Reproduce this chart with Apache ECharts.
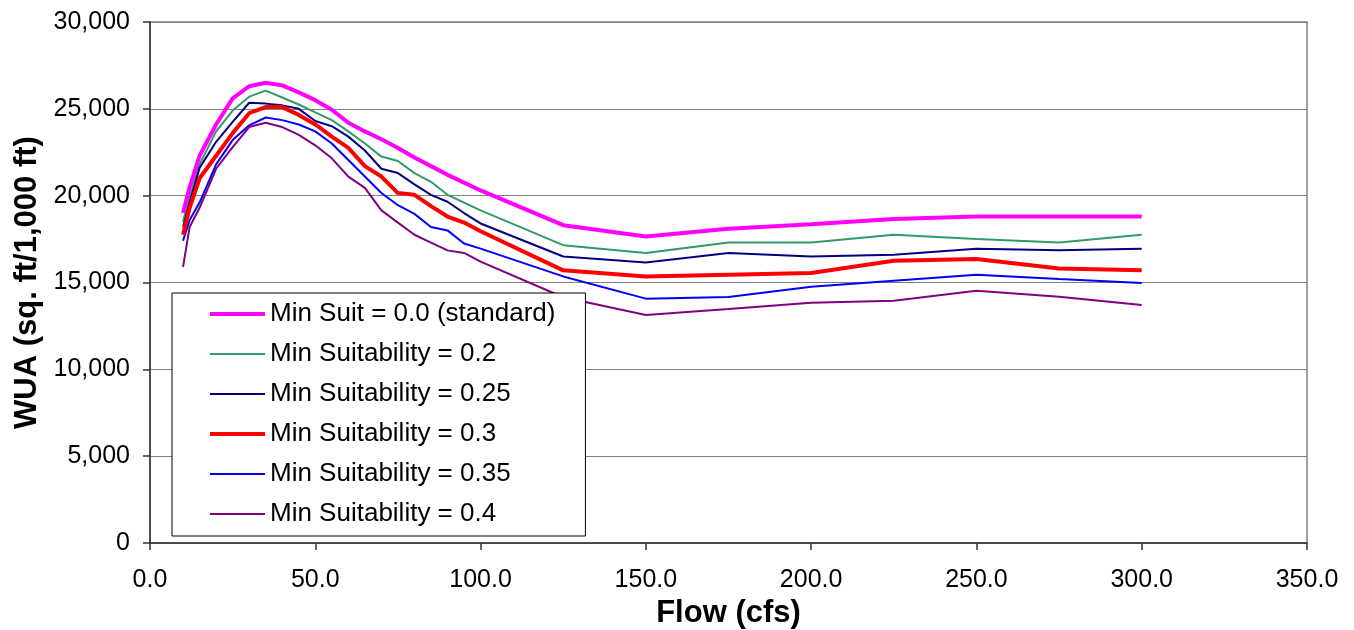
<!DOCTYPE html>
<html>
<head>
<meta charset="utf-8">
<script src="https://cdn.jsdelivr.net/npm/echarts@6/dist/echarts.min.js"></script>
<style>
html,body{margin:0;padding:0;background:#fff;}
#chart{width:1354px;height:630px;}
</style>
</head>
<body>
<div id="chart"></div>
<script>
const flows = [10,12,15,20,25,30,35,40,45,50,55,60,65,70,75,80,85,90,95,100,125,150,175,200,225,250,275,300];
const minSuit00 = [19000,20500,22300,24100,25600,26300,26500,26350,25950,25500,24950,24200,23700,23250,22750,22200,21700,21200,20750,20300,18300,17650,18100,18350,18650,18800,18800,18800];
const minSuit020 = [18500,19900,21800,23700,24900,25700,26050,25650,25250,24800,24350,23700,23000,22250,22000,21300,20800,20050,19600,19150,17150,16700,17300,17300,17750,17500,17300,17750];
const minSuit025 = [18200,19600,21600,23100,24250,25350,25300,25200,25000,24300,24000,23400,22600,21550,21300,20650,20050,19650,19000,18400,16500,16150,16700,16500,16600,16950,16850,16950];
const minSuit030 = [17750,19300,21000,22300,23600,24750,25100,25100,24650,24100,23400,22750,21700,21100,20150,20050,19400,18800,18450,17950,15700,15350,15450,15550,16250,16350,15800,15700];
const minSuit035 = [17400,18600,19600,21800,23200,24050,24500,24350,24100,23700,23000,22050,21100,20150,19450,18950,18200,18000,17250,16950,15350,14070,14170,14750,15100,15450,15200,14970];
const minSuit040 = [15900,18200,19300,21550,22800,23950,24200,23950,23500,22900,22150,21100,20450,19150,18450,17750,17300,16850,16700,16200,14150,13130,13470,13840,13950,14530,14180,13700];

const seriesNames = ['Min Suit = 0.0 (standard)','Min Suitability = 0.2','Min Suitability = 0.25','Min Suitability = 0.3','Min Suitability = 0.35','Min Suitability = 0.4'];
const seriesValues = [minSuit00, minSuit020, minSuit025, minSuit030, minSuit035, minSuit040];
const seriesColors = ['#FF00FF','#339966','#000080','#FF0000','#0000FF','#800080'];
const seriesWidths = [4,2,2,4,2,2];

const xAxisTitle = 'Flow (cfs)';
const yAxisTitle = 'WUA (sq. ft/1,000 ft)';

const FONT = '"Liberation Sans", Arial, sans-serif';

const chart = echarts.init(document.getElementById('chart'), null, {renderer:'canvas'});

const series = seriesNames.map((name, i) => ({
  name: name,
  type: 'line',
  data: flows.map((f, j) => [f, seriesValues[i][j]]),
  symbol: 'none',
  showSymbol: false,
  smooth: false,
  animation: false,
  lineStyle: {color: seriesColors[i], width: seriesWidths[i]},
  itemStyle: {color: seriesColors[i]},
  z: (i === 0 || i === 3) ? 3 : 2
}));

chart.setOption({
  animation: false,
  backgroundColor: '#fff',
  grid: {
    left: 150, right: 47, top: 22, bottom: 87,
    outerBoundsMode: 'none',
    containLabel: false,
    show: true, borderColor: '#808080', borderWidth: 1.5, backgroundColor: 'transparent'
  },
  legend: {
    show: true,
    orient: 'vertical',
    left: 172, top: 293,
    backgroundColor: '#fff',
    borderColor: '#000',
    borderWidth: 1,
    padding: [8, 30, 9, 36],
    itemWidth: 55,
    itemHeight: 14,
    itemGap: 14,
    itemStyle: {opacity: 0},
    data: seriesNames.map((n, i) => ({
      name: n,
      itemStyle: {opacity: 0},
      lineStyle: {width: seriesWidths[i], color: seriesColors[i]}
    })),
    textStyle: {fontFamily: FONT, fontSize: 26, color: '#000'},
    z: 20
  },
  xAxis: {
    type: 'value',
    min: 0, max: 350, interval: 50,
    name: xAxisTitle,
    nameLocation: 'middle',
    nameGap: 54,
    nameTextStyle: {fontFamily: FONT, fontSize: 31, fontWeight: 'bold', color: '#000'},
    axisLine: {show: true, onZero: false, lineStyle: {color: '#333', width: 1.5}},
    axisTick: {show: true, inside: false, length: 7, lineStyle: {color: '#333', width: 1.5}},
    axisLabel: {fontFamily: FONT, fontSize: 25, color: '#000', margin: 25, formatter: v => v.toFixed(1)},
    splitLine: {show: false}
  },
  yAxis: {
    type: 'value',
    min: 0, max: 30000, interval: 5000,
    name: yAxisTitle,
    nameLocation: 'middle',
    nameRotate: 90,
    nameGap: 106,
    nameTextStyle: {fontFamily: FONT, fontSize: 31, fontWeight: 'bold', color: '#000'},
    axisLine: {show: true, lineStyle: {color: '#333', width: 1.5}},
    axisTick: {show: true, inside: false, length: 7, lineStyle: {color: '#333', width: 1.5}},
    axisLabel: {fontFamily: FONT, fontSize: 25, color: '#000', margin: 20, formatter: v => v.toLocaleString('en-US')},
    splitLine: {show: true, lineStyle: {color: '#808080', width: 1.2}}
  },
  series: series
});
</script>
</body>
</html>
